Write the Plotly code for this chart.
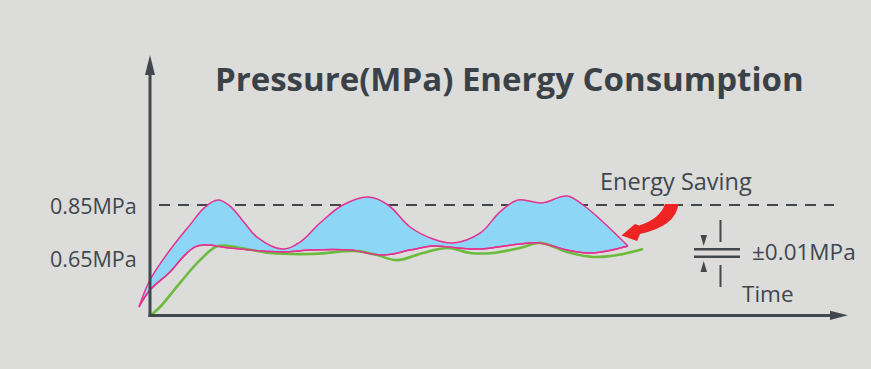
import plotly.graph_objects as go

# ---- data (time in arbitrary units, pressure in MPa) ----
time_upper = [-1.1, 0.0, 2.0, 4.0, 5.5, 6.8, 8.0, 9.5, 10.7, 13.2, 15.0, 17.0, 19.3, 21.8, 23.8,
              26.0, 28.3, 30.3, 33.0, 35.0, 36.8, 39.2, 41.7, 43.3, 45.3, 47.8]
pressure_upper = [0.465, 0.567, 0.680, 0.775, 0.842, 0.869, 0.846, 0.780, 0.729, 0.684, 0.710, 0.782,
                  0.850, 0.880, 0.850, 0.767, 0.722, 0.707, 0.744, 0.824, 0.869, 0.858, 0.884,
                  0.850, 0.786, 0.695]

time_lower = [-1.1, 0.0, 2.0, 3.3, 4.5, 5.5, 8.0, 11.3, 13.7, 16.0, 20.0, 23.3, 26.0, 28.3,
              30.7, 33.0, 37.0, 39.0, 41.7, 44.3, 47.8]
pressure_lower = [0.465, 0.529, 0.597, 0.654, 0.692, 0.699, 0.688, 0.676, 0.673, 0.680, 0.680,
                  0.661, 0.680, 0.695, 0.688, 0.684, 0.703, 0.707, 0.680, 0.669, 0.695]

time_actual = [0.0, 1.0, 3.0, 5.0, 6.8, 9.0, 12.0, 16.0, 20.7, 22.7, 24.7, 27.3, 29.8, 32.0,
               34.3, 37.0, 39.0, 41.7, 44.3, 46.7, 49.3]
pressure_actual = [0.431, 0.465, 0.556, 0.642, 0.695, 0.688, 0.669, 0.665, 0.676, 0.661, 0.642,
                   0.669, 0.688, 0.669, 0.669, 0.688, 0.707, 0.673, 0.654, 0.661, 0.684]

setpoint_high = 0.85
setpoint_low = 0.65
tick_labels = ["0.85MPa", "0.65MPa"]

title_text = "Pressure(MPa) Energy Consumption"
saving_text = "Energy Saving"
tolerance_text = "±0.01MPa"
time_text = "Time"

# ---- styling ----
BG = "#dcdcda"
DARK = "#41474c"
MAGENTA = "#e5328e"
GREEN = "#6cbb3f"
BLUE = "#8dd6f6"
RED = "#ee2424"
FONT = "Open Sans"
SMOOTH = 1.1


def X(px):
    return (px - 150) / 10.0


def Y(py):
    return 0.85 - (py - 205) * 0.2 / 53.0


def path(points, close=True):
    s = "M " + " L ".join(f"{X(a):.4f},{Y(b):.5f}" for a, b in points)
    return s + (" Z" if close else "")


fig = go.Figure()

# fill between envelopes
fig.add_trace(go.Scatter(x=time_lower, y=pressure_lower, mode="lines",
                         line=dict(color=MAGENTA, width=1.5, shape="spline", smoothing=SMOOTH),
                         hoverinfo="skip", showlegend=False))
fig.add_trace(go.Scatter(x=time_upper, y=pressure_upper, mode="lines", fill="tonexty",
                         fillcolor=BLUE,
                         line=dict(color=MAGENTA, width=1.5, shape="spline", smoothing=SMOOTH),
                         hoverinfo="skip", showlegend=False))
fig.add_trace(go.Scatter(x=time_actual, y=pressure_actual, mode="lines",
                         line=dict(color=GREEN, width=2.6, shape="spline", smoothing=SMOOTH),
                         hoverinfo="skip", showlegend=False))
# redraw lower magenta on top
fig.add_trace(go.Scatter(x=time_lower, y=pressure_lower, mode="lines",
                         line=dict(color=MAGENTA, width=1.5, shape="spline", smoothing=SMOOTH),
                         hoverinfo="skip", showlegend=False))

shapes = []
# dashed setpoint line
shapes.append(dict(type="line", xref="x", yref="y", x0=X(159), x1=X(834),
                   y0=setpoint_high, y1=setpoint_high, layer="below",
                   line=dict(color=DARK, width=2, dash="11px,8px")))
# axes
shapes.append(dict(type="line", xref="x", yref="y", x0=X(150), x1=X(150), y0=Y(317), y1=Y(70),
                   line=dict(color=DARK, width=3)))
shapes.append(dict(type="line", xref="x", yref="y", x0=X(148.5), x1=X(835), y0=Y(315.5), y1=Y(315.5),
                   line=dict(color=DARK, width=3)))
shapes.append(dict(type="path", xref="x", yref="y", path=path([(145, 75), (150, 55), (155, 75)]),
                   fillcolor=DARK, line=dict(width=0)))
shapes.append(dict(type="path", xref="x", yref="y", path=path([(830, 310.7), (848, 315.3), (830, 320)]),
                   fillcolor=DARK, line=dict(width=0)))

# red curved arrow
red_path = (f"M {X(678.5):.4f},{Y(204):.5f} "
            f"Q {X(676):.4f},{Y(226):.5f} {X(640):.4f},{Y(234):.5f} "
            f"L {X(637):.4f},{Y(241):.5f} L {X(621.5):.4f},{Y(235.5):.5f} "
            f"L {X(635):.4f},{Y(224):.5f} L {X(639):.4f},{Y(225.5):.5f} "
            f"Q {X(660):.4f},{Y(219):.5f} {X(665):.4f},{Y(204):.5f} Z")
shapes.append(dict(type="path", xref="x", yref="y", path=red_path, fillcolor=RED, line=dict(width=0)))

# tolerance icon
for yy in (249.3, 256.7):
    shapes.append(dict(type="line", xref="x", yref="y", x0=X(694), x1=X(740), y0=Y(yy), y1=Y(yy),
                       line=dict(color=DARK, width=2.4)))
shapes.append(dict(type="line", xref="x", yref="y", x0=X(720.5), x1=X(720.5), y0=Y(220), y1=Y(242),
                   line=dict(color=DARK, width=2)))
shapes.append(dict(type="line", xref="x", yref="y", x0=X(720.5), x1=X(720.5), y0=Y(265), y1=Y(287),
                   line=dict(color=DARK, width=2)))
shapes.append(dict(type="path", xref="x", yref="y", path=path([(700.5, 235), (707, 235), (703.7, 246)]),
                   fillcolor=DARK, line=dict(width=0)))
shapes.append(dict(type="path", xref="x", yref="y", path=path([(700.5, 272), (707, 272), (703.7, 261)]),
                   fillcolor=DARK, line=dict(width=0)))

annotations = [
    dict(x=X(509), y=Y(78), xref="x", yref="y", text=f"<b>{title_text}</b>", showarrow=False,
         xanchor="center", yanchor="middle", font=dict(family=FONT, size=33, color="#3b4247")),
    dict(x=X(139), y=setpoint_high, xref="x", yref="y", text=tick_labels[0], showarrow=False,
         xanchor="right", yanchor="middle", font=dict(family=FONT, size=21.5, color=DARK)),
    dict(x=X(139), y=setpoint_low, xref="x", yref="y", text=tick_labels[1], showarrow=False,
         xanchor="right", yanchor="middle", font=dict(family=FONT, size=21.5, color=DARK)),
    dict(x=X(598), y=Y(181), xref="x", yref="y", text=saving_text, showarrow=False,
         xanchor="left", yanchor="middle", font=dict(family=FONT, size=23.5, color=DARK)),
    dict(x=X(750), y=Y(251), xref="x", yref="y", text=tolerance_text, showarrow=False,
         xanchor="left", yanchor="middle", font=dict(family=FONT, size=22.5, color=DARK)),
    dict(x=X(740), y=Y(293), xref="x", yref="y", text=time_text, showarrow=False,
         xanchor="left", yanchor="middle", font=dict(family=FONT, size=22.5, color=DARK)),
]

fig.update_layout(
    width=871, height=369, autosize=False,
    margin=dict(l=0, r=0, t=0, b=0, pad=0),
    paper_bgcolor=BG, plot_bgcolor=BG,
    xaxis=dict(range=[X(0), X(871)], visible=False, fixedrange=True),
    yaxis=dict(range=[Y(369), Y(0)], visible=False, fixedrange=True),
    shapes=shapes, annotations=annotations, showlegend=False,
)

fig.write_html("out.html", config={"displayModeBar": False, "staticPlot": True},
               post_script="document.body.style.margin='0';document.body.style.background='" + BG + "';")
